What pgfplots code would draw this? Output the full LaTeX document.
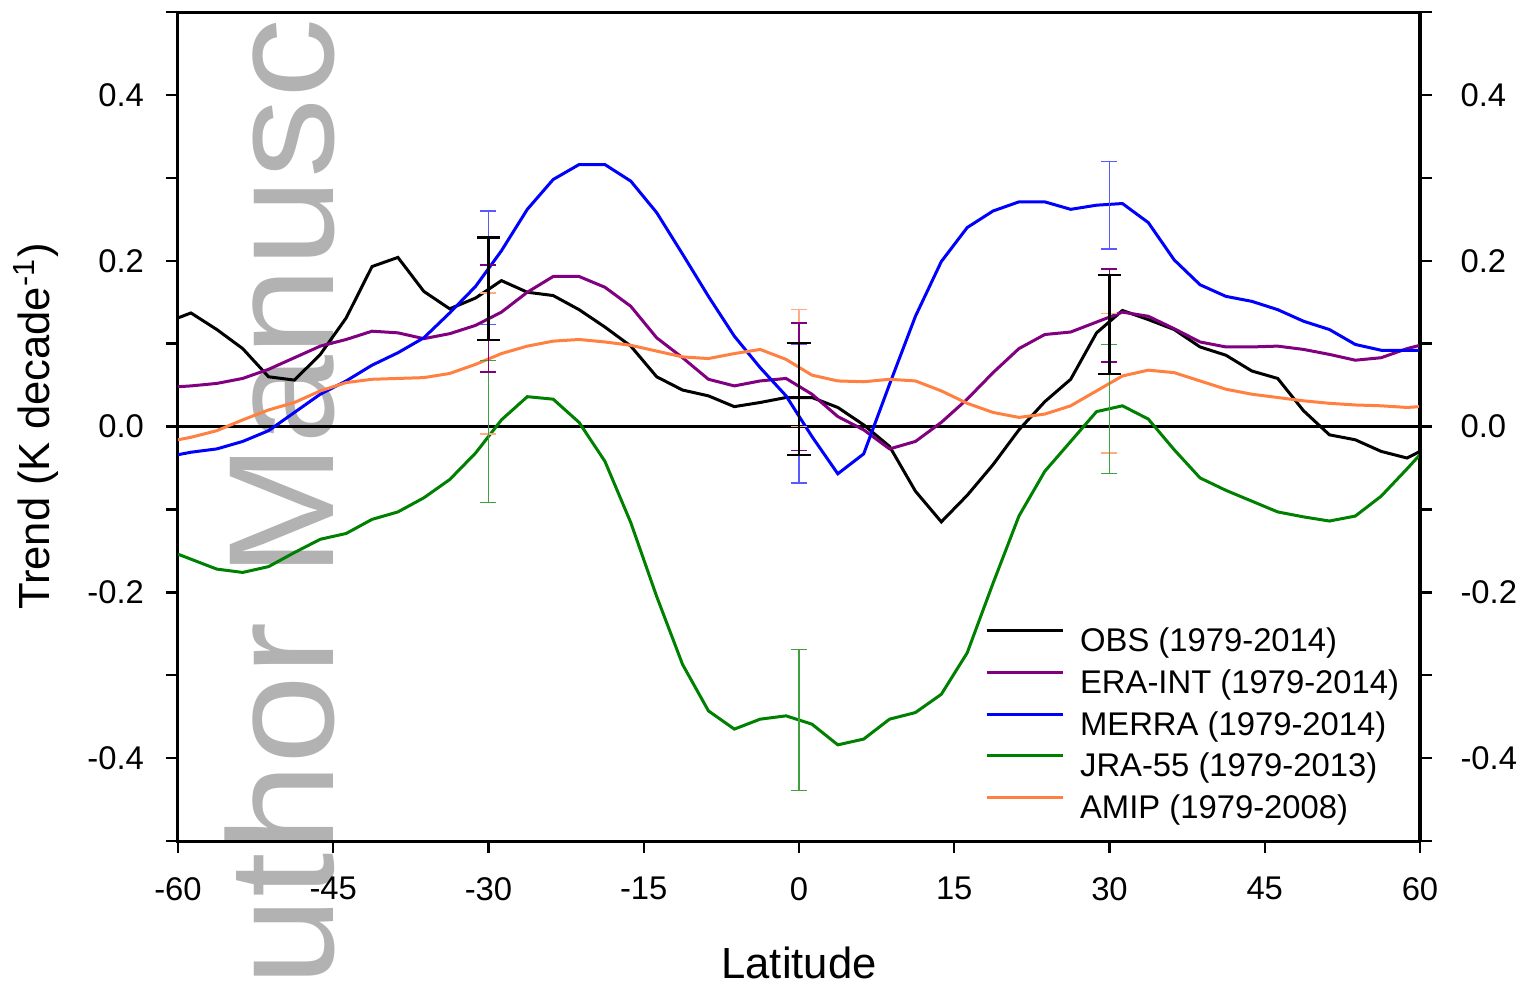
\documentclass[border=0pt]{standalone}
\usepackage{fontspec}
\setmainfont{Liberation Sans}
\newfontfamily\wmfont[FakeStretch=1.065]{Liberation Sans}
\usepackage{pgfplots}
\usepackage{pgfplotstable}
\pgfplotsset{compat=1.18}

\definecolor{cpurple}{RGB}{128,0,128}
\definecolor{cblue}{RGB}{0,0,255}
\definecolor{cgreen}{RGB}{0,128,0}
\definecolor{corange}{RGB}{255,128,64}

% zonal-mean trends, K/decade
\pgfplotstableread{
lat     obs    era    merra  jra    amip
-60     0.131  0.048 -0.034 -0.154 -0.016
-58.75  0.137  0.049 -0.031 -0.160 -0.013
-56.25  0.117  0.052 -0.027 -0.172 -0.005
-53.75  0.094  0.058 -0.018 -0.176  0.008
-51.25  0.060  0.069 -0.005 -0.169  0.020
-48.75  0.056  0.083  0.017 -0.152  0.029
-46.25  0.087  0.097  0.039 -0.136  0.043
-43.75  0.131  0.105  0.055 -0.129  0.053
-41.25  0.193  0.115  0.074 -0.112  0.057
-38.75  0.204  0.113  0.089 -0.103  0.058
-36.25  0.163  0.106  0.107 -0.086  0.059
-33.75  0.142  0.112  0.137 -0.064  0.064
-31.25  0.155  0.122  0.169 -0.032  0.075
-28.75  0.176  0.138  0.212  0.008  0.088
-26.25  0.162  0.162  0.262  0.036  0.097
-23.75  0.158  0.181  0.298  0.033  0.103
-21.25  0.141  0.181  0.316  0.005  0.105
-18.75  0.120  0.168  0.316 -0.042  0.102
-16.25  0.097  0.145  0.296 -0.116  0.098
-13.75  0.060  0.107  0.258 -0.205  0.091
-11.25  0.044  0.083  0.208 -0.287  0.084
-8.75   0.037  0.057  0.157 -0.343  0.082
-6.25   0.024  0.049  0.109 -0.365  0.088
-3.75   0.029  0.055  0.071 -0.353  0.093
-1.25   0.035  0.058  0.037 -0.349  0.081
1.25    0.035  0.039 -0.012 -0.359  0.062
3.75    0.023  0.012 -0.057 -0.384  0.055
6.25    0.002 -0.004 -0.033 -0.377  0.054
8.75   -0.024 -0.027  0.051 -0.353  0.057
11.25  -0.078 -0.018  0.133 -0.345  0.055
13.75  -0.115  0.005  0.199 -0.323  0.043
16.25  -0.083  0.033  0.240 -0.273  0.028
18.75  -0.046  0.065  0.260 -0.189  0.017
21.25  -0.004  0.094  0.271 -0.108  0.011
23.75   0.030  0.111  0.271 -0.054  0.015
26.25   0.057  0.114  0.262 -0.018  0.025
28.75   0.113  0.126  0.267  0.018  0.043
31.25   0.140  0.138  0.269  0.025  0.061
33.75   0.129  0.133  0.246  0.009  0.068
36.25   0.117  0.118  0.201 -0.028  0.065
38.75   0.096  0.102  0.171 -0.062  0.055
41.25   0.086  0.096  0.157 -0.077  0.045
43.75   0.067  0.096  0.151 -0.090  0.039
46.25   0.058  0.097  0.141 -0.103  0.035
48.75   0.019  0.093  0.127 -0.109  0.031
51.25  -0.010  0.087  0.117 -0.114  0.028
53.75  -0.016  0.080  0.099 -0.108  0.026
56.25  -0.030  0.083  0.092 -0.084  0.025
58.75  -0.038  0.094  0.092 -0.051  0.023
60     -0.030  0.098  0.092 -0.034  0.024
}\trends

\pgfplotsset{
  common/.style={
    scale only axis, width=310.5pt, height=207.25pt,
    xmin=-60, xmax=60, ymin=-0.5, ymax=0.5,
    ytick={-0.4,-0.2,0,0.2,0.4},
    minor ytick={-0.5,-0.3,-0.1,0.1,0.3,0.5},
    tick align=outside,
    major tick length=3pt, minor tick length=3pt,
    every tick/.style={black, line width=0.6pt},
    axis line style={line width=0.75pt},
    /pgf/number format/assume math mode=true,
    tick label style={font=\fontsize{8.2}{10}\selectfont},
    yticklabel style={/pgf/number format/.cd, fixed, fixed zerofill, precision=1},
  },
  % colour, line width, cap half-width
  ebar/.style n args={3}{forget plot, draw=none, no markers,
    error bars/.cd, y dir=both, y explicit,
    error bar style={draw=#1, line width=#2},
    error mark options={draw=#1, rotate=90, mark size=#3, line width=#2}},
}

\begin{document}
\begin{tikzpicture}
% watermark behind the plot
\node[rotate=90, anchor=base west, inner sep=0pt, text=black!30,
      font=\wmfont\fontsize{37.5}{40}\selectfont] at (38.75pt,-36.5pt) {uthor Manusc};

\begin{axis}[common,
  xtick={-60,-45,...,60},
  xtick pos=left, ytick pos=left,
  xticklabel shift=2.5pt, yticklabel shift=2pt,
  every axis x label/.style={at={(axis description cs:0.5,-0.1653)}, anchor=base,
    font=\fontsize{10.9}{13}\selectfont},
  every axis y label/.style={at={(axis description cs:-0.1031,0.5)}, rotate=90, anchor=base,
    font=\fontsize{10.9}{13}\selectfont},
  xlabel={Latitude},
  ylabel={Trend (K decade\textsuperscript{-1})},
  legend cell align=left,
  legend image code/.code={\draw[#1] (0pt,2.75pt) -- (19pt,2.75pt);},
  legend style={at={(0.6492,0.263)}, anchor=north west, draw=none, fill=none,
    font=\fontsize{8.2}{10}\selectfont, inner sep=0pt, row sep=1.4pt, column sep=4pt,
    nodes={inner sep=0pt, text height=7pt, text depth=2pt}},
]
\addplot[black, line width=0.75pt, forget plot] coordinates {(-60,0) (60,0)};

\addplot[black, line width=0.75pt] table[x=lat, y=obs] {\trends};
\addlegendentry{OBS (1979-2014)}
\addplot[cpurple, line width=0.75pt] table[x=lat, y=era] {\trends};
\addlegendentry{ERA-INT (1979-2014)}
\addplot[cblue, line width=0.75pt] table[x=lat, y=merra] {\trends};
\addlegendentry{MERRA (1979-2014)}
\addplot[cgreen, line width=0.75pt] table[x=lat, y=jra] {\trends};
\addlegendentry{JRA-55 (1979-2013)}
\addplot[corange, line width=0.75pt] table[x=lat, y=amip] {\trends};
\addlegendentry{AMIP (1979-2008)}

% uncertainty ranges at 30S, EQ, 30N
\addplot[ebar={corange!65}{0.35pt}{2pt}] coordinates {(-30,0.076) +- (0,0.085) (0,0.0705) +- (0,0.0705) (30,0.052) +- (0,0.084)};
\addplot[ebar={cgreen!75}{0.35pt}{2pt}] coordinates {(-30,-0.006) +- (0,0.086) (0,-0.354) +- (0,0.085) (30,0.021) +- (0,0.078)};
\addplot[ebar={cblue!65}{0.35pt}{2pt}] coordinates {(-30,0.1915) +- (0,0.0685) (0,0.0155) +- (0,0.0835) (30,0.267) +- (0,0.053)};
\addplot[ebar={cpurple}{0.35pt}{2pt}] coordinates {(-30,0.1305) +- (0,0.0645) (0,0.048) +- (0,0.077) (30,0.134) +- (0,0.056)};
\addplot[ebar={black}{0.55pt}{2.9pt}]
  coordinates {(-30,0.166) +- (0,0.062) (0,0.0335) +- (0,0.0675) (30,0.123) +- (0,0.060)};
\end{axis}

% right-hand tick labels
\begin{axis}[common,
  axis x line=none, axis y line*=right,
  ytick pos=right, yticklabel pos=right,
  yticklabel shift=3.6pt,
]
\end{axis}

\pgfresetboundingbox
\useasboundingbox (-44.5pt,-37pt) rectangle (337pt,210.25pt);
\end{tikzpicture}
\end{document}
